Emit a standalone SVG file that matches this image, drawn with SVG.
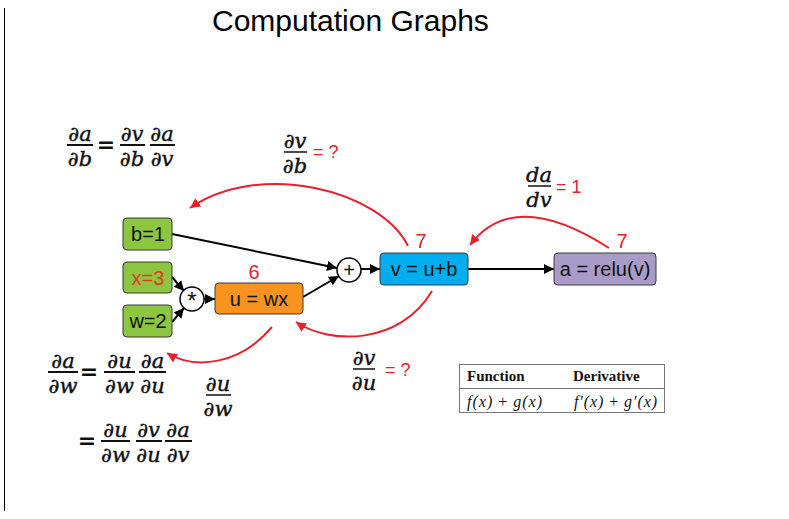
<svg xmlns="http://www.w3.org/2000/svg" width="789" height="519" viewBox="0 0 789 519">
<defs>
<marker id="ab" markerUnits="userSpaceOnUse" markerWidth="12" markerHeight="12" refX="10" refY="5" orient="auto"><path d="M0,0 L10,5 L0,10 Z" fill="#000"/></marker>
<marker id="ar" markerUnits="userSpaceOnUse" markerWidth="12" markerHeight="12" refX="10" refY="5" orient="auto"><path d="M0,0 L10,5 L0,10 Z" fill="#e8202a"/></marker>
<style>
.box{stroke:#3a3a3a;stroke-width:1}
.lbl{font-family:"Liberation Sans",Arial,sans-serif;font-size:20px;fill:#111;text-anchor:middle}
.num{font-family:"Liberation Sans",Arial,sans-serif;font-size:20px;fill:#e8202a;text-anchor:middle}
.m{font-family:"DejaVu Serif",serif;font-style:italic;font-size:21px;fill:#111;text-anchor:middle;stroke:#111;stroke-width:0.4}
.eq{font-family:"DejaVu Sans",sans-serif;font-size:22px;fill:#111;text-anchor:middle;font-weight:bold}
.bar{stroke:#111;stroke-width:2}
.red{font-family:"Liberation Sans",Arial,sans-serif;font-size:18px;fill:#e8202a}
.blk{stroke:#000;stroke-width:2;fill:none}
.rc{stroke:#e8202a;stroke-width:2;fill:none}
.tb{font-family:"Liberation Serif",serif;font-size:15px;font-weight:bold;fill:#111}
.ti{font-family:"Liberation Serif",serif;font-size:16px;font-style:italic;fill:#111}
</style>
</defs>
<rect width="789" height="519" fill="#fff"/>
<line x1="4.5" y1="8" x2="4.5" y2="511" stroke="#000" stroke-width="1"/>
<text x="212" y="31" font-family="Liberation Sans,Arial,sans-serif" font-size="30" fill="#000">Computation Graphs</text>

<g id="connectors">
<line class="blk" x1="172" y1="234" x2="337" y2="268" marker-end="url(#ab)"/>
<line class="blk" x1="303" y1="297" x2="339" y2="276" marker-end="url(#ab)"/>
<line class="blk" x1="172" y1="277" x2="184" y2="291" marker-end="url(#ab)"/>
<line class="blk" x1="172" y1="322" x2="184" y2="308" marker-end="url(#ab)"/>
<line class="blk" x1="204" y1="299" x2="215" y2="299" marker-end="url(#ab)"/>
<line class="blk" x1="361" y1="269" x2="380" y2="269" marker-end="url(#ab)"/>
<line class="blk" x1="468" y1="269" x2="554" y2="269" marker-end="url(#ab)"/>
<path class="rc" d="M408,246 C380,190 260,160 190,208" marker-end="url(#ar)"/>
<path class="rc" d="M609,248 Q514,187 470,245" marker-end="url(#ar)"/>
<path class="rc" d="M432,291 C400,345 330,345 296,322" marker-end="url(#ar)"/>
<path class="rc" d="M272,327 C240,365 195,370 167,353" marker-end="url(#ar)"/>
</g>

<g id="b"><rect class="box" x="123" y="218" width="49" height="32" rx="4" fill="#8cc540"/><text class="lbl" x="148" y="241">b=1</text></g>
<g id="x"><rect class="box" x="123" y="262" width="49" height="31" rx="4" fill="#8cc540"/><text class="lbl" x="148" y="285" style="fill:#e03a1e">x=3</text></g>
<g id="w"><rect class="box" x="123" y="305" width="49" height="32" rx="4" fill="#8cc540"/><text class="lbl" x="148" y="328">w=2</text></g>
<g id="mul"><circle cx="192" cy="299" r="12" fill="#fff" stroke="#000" stroke-width="1.5"/><text class="lbl" x="192" y="309" style="font-size:24px">*</text></g>
<g id="u"><rect class="box" x="215" y="283" width="88" height="31" rx="4" fill="#f7931e"/><text class="lbl" x="259" y="306">u = wx</text><text class="num" x="254" y="279">6</text></g>
<g id="plus"><circle cx="349" cy="270" r="12" fill="#fff" stroke="#000" stroke-width="1.5"/><text class="lbl" x="349" y="277">+</text></g>
<g id="v"><rect class="box" x="380" y="253" width="88" height="32" rx="4" fill="#00aeef"/><text class="lbl" x="424" y="276">v = u+b</text><text class="num" x="421" y="248">7</text></g>
<g id="a"><rect class="box" x="554" y="253" width="102" height="32" rx="4" fill="#a99bc8"/><text class="lbl" x="605" y="276">a = relu(v)</text><text class="num" x="622" y="248">7</text></g>

<g id="eq1">
<text class="m" x="80" y="141">∂a</text><line class="bar" x1="67" y1="145" x2="93" y2="145"/><text class="m" x="80" y="166">∂b</text>
<text class="eq" x="106" y="152">=</text>
<text class="m" x="132" y="141">∂v</text><line class="bar" x1="120" y1="145" x2="145" y2="145"/><text class="m" x="132" y="166">∂b</text>
<text class="m" x="162" y="141">∂a</text><line class="bar" x1="150" y1="145" x2="175" y2="145"/><text class="m" x="162" y="166">∂v</text>
</g>
<g id="dvdb">
<text class="m" x="295" y="148">∂v</text><line class="bar" x1="284" y1="152" x2="307" y2="152" style="stroke-width:1.5"/><text class="m" x="295" y="173">∂b</text>
<text class="red" x="313" y="158">= ?</text>
</g>
<g id="dadv">
<text class="m" x="539" y="182">da</text><line class="bar" x1="528" y1="186" x2="551" y2="186" style="stroke-width:1.5"/><text class="m" x="539" y="207">dv</text>
<text class="red" x="556" y="193">= 1</text>
</g>
<g id="eq2">
<text class="m" x="63" y="368">∂a</text><line class="bar" x1="48" y1="372" x2="78" y2="372"/><text class="m" x="63" y="393">∂w</text>
<text class="eq" x="89" y="379">=</text>
<text class="m" x="119.5" y="368">∂u</text><line class="bar" x1="104" y1="372" x2="135" y2="372"/><text class="m" x="119.5" y="393">∂w</text>
<text class="m" x="152.5" y="368">∂a</text><line class="bar" x1="139" y1="372" x2="166" y2="372"/><text class="m" x="152.5" y="393">∂u</text>
</g>
<g id="dudw">
<text class="m" x="218" y="391">∂u</text><line class="bar" x1="206" y1="395" x2="231" y2="395" style="stroke-width:1.5"/><text class="m" x="218" y="416">∂w</text>
</g>
<g id="eq3">
<text class="eq" x="87" y="448">=</text>
<text class="m" x="115.5" y="437">∂u</text><line class="bar" x1="101" y1="441" x2="130" y2="441"/><text class="m" x="115.5" y="462">∂w</text>
<text class="m" x="148.5" y="437">∂v</text><line class="bar" x1="136" y1="441" x2="162" y2="441"/><text class="m" x="148.5" y="462">∂u</text>
<text class="m" x="178" y="437">∂a</text><line class="bar" x1="165" y1="441" x2="192" y2="441"/><text class="m" x="178" y="462">∂v</text>
</g>
<g id="dvdu">
<text class="m" x="364" y="365">∂v</text><line class="bar" x1="353" y1="369" x2="375" y2="369" style="stroke-width:1.5"/><text class="m" x="364" y="390">∂u</text>
<text class="red" x="385" y="376">= ?</text>
</g>

<g id="table">
<rect x="459.5" y="364.5" width="205" height="48" fill="#fff" stroke="#777" stroke-width="1"/>
<line x1="459.5" y1="388.5" x2="664.5" y2="388.5" stroke="#777" stroke-width="1"/>
<text class="tb" x="467" y="381">Function</text>
<text class="tb" x="573" y="381">Derivative</text>
<text class="ti" x="467" y="407" textLength="75" lengthAdjust="spacing">f(x) <tspan style="font-style:normal">+</tspan> g(x)</text>
<text class="ti" x="574" y="407" textLength="83" lengthAdjust="spacing">f′(x) <tspan style="font-style:normal">+</tspan> g′(x)</text>
</g>
</svg>
